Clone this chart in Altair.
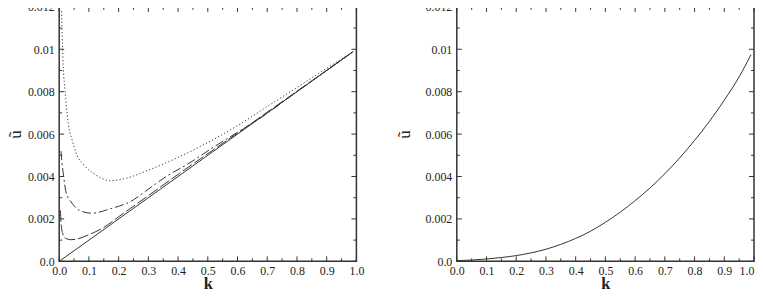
import altair as alt
import pandas as pd

# ---- data ----
k_solid = [0.0, 0.99]
u_solid = [0.0, 0.0099]

k_dash = [0.004, 0.007, 0.012, 0.02, 0.04, 0.06, 0.09, 0.15, 0.2, 0.3, 0.4, 0.6, 0.8, 0.99]
u_dash = [0.0024, 0.0017, 0.0013, 0.0011, 0.00102, 0.00105, 0.0012, 0.0016, 0.0021, 0.0031, 0.0041, 0.00605, 0.00802, 0.0099]

k_dashdot = [0.006, 0.009, 0.015, 0.023, 0.03, 0.04, 0.068, 0.11, 0.17, 0.25, 0.29, 0.36, 0.44, 0.51, 0.59, 0.66, 0.8, 0.99]
u_dashdot = [0.0052, 0.0047, 0.0040, 0.00325, 0.0030, 0.0028, 0.0024, 0.00227, 0.00247, 0.0029, 0.0033, 0.0040, 0.00465, 0.0053, 0.0060, 0.0066, 0.0080, 0.0099]

k_dot = [0.008, 0.011, 0.014, 0.02, 0.027, 0.034, 0.042, 0.05, 0.06, 0.08, 0.1, 0.12, 0.145, 0.17, 0.22, 0.3, 0.4, 0.5, 0.6, 0.7, 0.8, 0.9, 0.99]
u_dot = [0.0118, 0.0102, 0.0091, 0.0080, 0.0069, 0.0062, 0.0058, 0.0054, 0.0050, 0.0046, 0.0043, 0.0041, 0.0039, 0.0038, 0.0039, 0.0043, 0.0049, 0.0056, 0.0064, 0.0073, 0.0082, 0.0091, 0.0099]

k_right = [0.0, 0.05, 0.1, 0.15, 0.2, 0.25, 0.3, 0.35, 0.4, 0.45, 0.5, 0.55, 0.6, 0.65, 0.7, 0.75, 0.8, 0.85, 0.9, 0.95, 0.99]
u_right = [0.00003, 0.00006, 0.00011, 0.00018, 0.00027, 0.0004, 0.00057, 0.0008, 0.00108, 0.00142, 0.00184, 0.00232, 0.00286, 0.00346, 0.00413, 0.00488, 0.0057, 0.0066, 0.0076, 0.0087, 0.00975]

x_major = [0.0, 0.1, 0.2, 0.3, 0.4, 0.5, 0.6, 0.7, 0.8, 0.9, 1.0]
x_minor = [0.05, 0.15, 0.25, 0.35, 0.45, 0.55, 0.65, 0.75, 0.85, 0.95]
y_major = [0.0, 0.002, 0.004, 0.006, 0.008, 0.01, 0.012]
y_minor = [0.001, 0.003, 0.005, 0.007, 0.009, 0.011]

W, H = 299, 256
FONT = "Liberation Serif"
INK = "#333333"

xs = alt.Scale(domain=[0, 1], nice=False, zero=False)
ys = alt.Scale(domain=[0, 0.012], nice=False, zero=False)


def axes(title_x, last_align):
    xa = alt.Axis(values=x_major, format=".1f", ticks=False, domain=False, grid=False,
                  labelFont=FONT, labelFontSize=12, labelColor="#222", labelPadding=4,
                  labelFlush=False, labelOverlap=False,
                  labelAlign={"condition": {"test": "datum.value >= 0.999", "value": last_align},
                              "value": "center"},
                  title="k", titleFont=FONT, titleFontSize=16.5, titleFontWeight="bold",
                  titleColor="#222", titleY=27.5, titleBaseline="alphabetic")
    ya = alt.Axis(values=y_major, labelExpr="datum.value == 0 ? '0.0' : format(datum.value, '~g')",
                  ticks=False, domain=False, grid=False, labelFont=FONT, labelFontSize=12,
                  labelColor="#222", labelPadding=5, labelFlush=False, labelOverlap=False,
                  title="ũ", titleFont=FONT, titleFontSize=17, titleFontWeight="normal",
                  titleColor="#222", titleX=title_x, titleY=128, titleAngle=-90,
                  titleAlign="center", titleBaseline="middle")
    return xa, ya


def panel(series, title_x, last_align):
    xa, ya = axes(title_x, last_align)
    X = lambda f: alt.X(f, scale=xs, axis=xa)
    Y = lambda f: alt.Y(f, scale=ys, axis=ya)
    layers = []
    for k, u, dash in series:
        kw = dict(color=INK, strokeWidth=1, clip=True, interpolate="monotone")
        if dash:
            kw["strokeDash"] = dash
        df = pd.DataFrame({"k": k, "u": u})
        layers.append(alt.Chart(df).mark_line(**kw).encode(x=X("k:Q"), y=Y("u:Q")))
    for vals, size in ((x_major, 5), (x_minor, 3)):
        d = pd.DataFrame({"k": vals})
        layers.append(alt.Chart(d).mark_rule(color=INK, strokeWidth=1).encode(
            x=X("k:Q"), y=alt.value(H), y2=alt.value(H - size)))
        layers.append(alt.Chart(d).mark_rule(color=INK, strokeWidth=1).encode(
            x=X("k:Q"), y=alt.value(0), y2=alt.value(size)))
    for vals, size in ((y_major, 5), (y_minor, 3)):
        d = pd.DataFrame({"u": vals})
        layers.append(alt.Chart(d).mark_rule(color=INK, strokeWidth=1).encode(
            y=Y("u:Q"), x=alt.value(0), x2=alt.value(size)))
        layers.append(alt.Chart(d).mark_rule(color=INK, strokeWidth=1).encode(
            y=Y("u:Q"), x=alt.value(W), x2=alt.value(W - size)))
    return alt.layer(*layers).properties(width=W, height=H)


left = panel([
    (k_solid, u_solid, None),
    (k_dash, u_dash, [11, 3]),
    (k_dashdot, u_dashdot, [9, 3, 2, 3]),
    (k_dot, u_dot, [1.2, 2.3]),
], -44, "center")

right = panel([(k_right, u_right, None)], -53, "right")

chart = alt.hconcat(left, right, spacing=29).properties(
    padding={"left": -2.5, "top": -9, "right": -1, "bottom": -2.5},
    background="white",
).configure(font=FONT).configure_view(stroke=INK, strokeWidth=1.5)

chart.save("out.html", embed_options={"renderer": "svg", "actions": False})
